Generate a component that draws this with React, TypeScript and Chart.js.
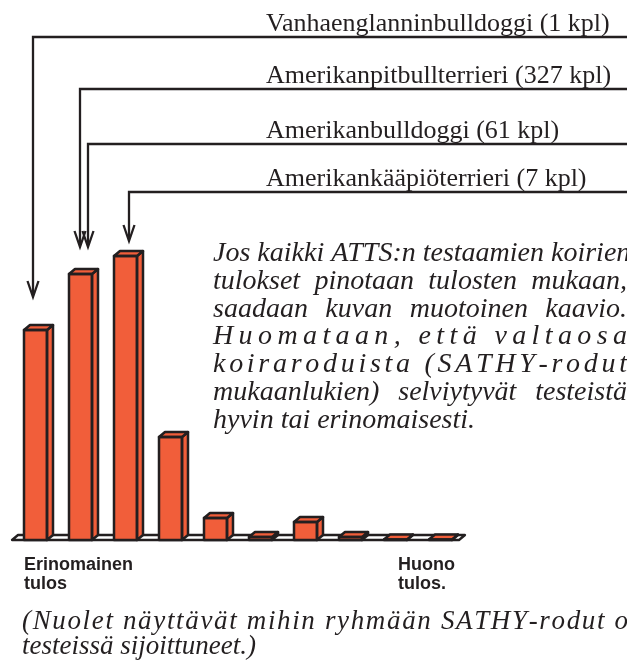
import { useEffect, useRef } from "react";
import { Chart, registerables } from "chart.js";

Chart.register(...registerables);

// ---- data ----
const categories = ["1", "2", "3", "4", "5", "6", "7", "8", "9", "10"];
const values = [210, 266, 284, 103, 22, 3, 18, 3, 0.5, 0.5];
const yMax = 300;

const breedLabels = [
  "Vanhaenglanninbulldoggi (1 kpl)",
  "Amerikanpitbullterrieri (327 kpl)",
  "Amerikanbulldoggi (61 kpl)",
  "Amerikankääpiöterrieri (7 kpl)",
];
const breedBar = [0, 1, 1, 2];

const paragraphLines = [
  "Jos kaikki ATTS:n testaamien koirien",
  "tulokset pinotaan tulosten mukaan,",
  "saadaan kuvan muotoinen kaavio.",
  "Huomataan, että valtaosa",
  "koiraroduista (SATHY-rodut",
  "mukaanlukien) selviytyvät testeistä",
  "hyvin tai erinomaisesti.",
];
const captionLines = [
  "(Nuolet näyttävät mihin ryhmään SATHY-rodut o",
  "testeissä sijoittuneet.)",
];
const leftAxisLabel = ["Erinomainen", "tulos"];
const rightAxisLabel = ["Huono", "tulos."];

// ---- layout / style ----
const ORANGE = "#F15E3A";
const DARK = "#231F20";
const DX = 6;
const DY = 5;
const arrowDx = [-2.5, -0.5, 7.5, 3.5];
const arrowLineY = [37, 89, 144, 192];
const arrowTipY = [297, 247, 247, 241];
const paraModes = ["word", "word", "word", "letter", "letter", "word", "none"];
const captionModes = ["letter", "none"];

function drawLine(
  ctx: CanvasRenderingContext2D,
  text: string,
  x: number,
  y: number,
  right: number,
  mode: string
) {
  if (mode === "letter") {
    const chars = Array.from(text);
    const widths = chars.map((c) => ctx.measureText(c).width);
    const natural = widths.reduce((a, b) => a + b, 0);
    const gap = chars.length > 1 ? Math.max(0, (right - x - natural) / (chars.length - 1)) : 0;
    let cx = x;
    chars.forEach((c, i) => {
      ctx.fillText(c, cx, y);
      cx += widths[i] + gap;
    });
  } else if (mode === "word") {
    const words = text.split(" ");
    const ww = words.map((w) => ctx.measureText(w).width);
    const sum = ww.reduce((a, b) => a + b, 0);
    const sp = ctx.measureText(" ").width;
    const gap = words.length > 1 ? Math.max(sp, (right - x - sum) / (words.length - 1)) : sp;
    let cx = x;
    words.forEach((w, i) => {
      ctx.fillText(w, cx, y);
      cx += ww[i] + gap;
    });
  } else {
    ctx.fillText(text, x, y);
  }
}

const floorPlugin = {
  id: "floor3d",
  beforeDatasetsDraw(chart: any) {
    const { ctx, chartArea } = chart;
    const y = chartArea.bottom;
    const xl = chartArea.left - 1;
    const xr = chartArea.right - 4;
    ctx.save();
    ctx.beginPath();
    ctx.moveTo(xl, y);
    ctx.lineTo(xr, y);
    ctx.lineTo(xr + DX, y - DY);
    ctx.lineTo(xl + DX, y - DY);
    ctx.closePath();
    ctx.fillStyle = "#ffffff";
    ctx.fill();
    ctx.lineWidth = 2.3;
    ctx.strokeStyle = DARK;
    ctx.lineJoin = "round";
    ctx.stroke();
    ctx.restore();
  },
};

const depthPlugin = {
  id: "depth3d",
  afterDatasetsDraw(chart: any) {
    const { ctx } = chart;
    const meta = chart.getDatasetMeta(0);
    ctx.save();
    ctx.lineWidth = 2.5;
    ctx.strokeStyle = DARK;
    ctx.fillStyle = ORANGE;
    ctx.lineJoin = "round";
    meta.data.forEach((el: any) => {
      const { x, y, base, width } = el.getProps(["x", "y", "base", "width"], true);
      const x0 = x - width / 2;
      const x1 = x + width / 2;
      // side
      ctx.beginPath();
      ctx.moveTo(x1, y);
      ctx.lineTo(x1 + DX, y - DY);
      ctx.lineTo(x1 + DX, base - DY);
      ctx.lineTo(x1, base);
      ctx.closePath();
      ctx.fill();
      ctx.stroke();
      // top
      ctx.beginPath();
      ctx.moveTo(x0, y);
      ctx.lineTo(x1, y);
      ctx.lineTo(x1 + DX, y - DY);
      ctx.lineTo(x0 + DX, y - DY);
      ctx.closePath();
      ctx.fill();
      ctx.stroke();
      // front outline
      ctx.strokeRect(x0, y, width, base - y);
    });
    ctx.restore();
  },
};

const textPlugin = {
  id: "annotations",
  afterDraw(chart: any) {
    const { ctx } = chart;
    const W = chart.width;
    const meta = chart.getDatasetMeta(0);
    ctx.save();
    ctx.fillStyle = DARK;
    ctx.strokeStyle = DARK;
    ctx.textBaseline = "alphabetic";
    ctx.textAlign = "left";

    // breed labels and arrows
    ctx.font = '26px "Liberation Serif"';
    breedLabels.forEach((label, i) => {
      ctx.fillText(label, 266, arrowLineY[i] - 6);
    });
    ctx.lineWidth = 2.3;
    ctx.lineJoin = "miter";
    breedBar.forEach((b, i) => {
      const el = meta.data[b];
      const ax = el.x + arrowDx[i];
      const ly = arrowLineY[i];
      const ty = arrowTipY[i];
      ctx.beginPath();
      ctx.moveTo(W + 2, ly);
      ctx.lineTo(ax, ly);
      ctx.lineTo(ax, ty - 2);
      ctx.stroke();
      ctx.beginPath();
      ctx.moveTo(ax - 5.5, ty - 16);
      ctx.lineTo(ax, ty);
      ctx.lineTo(ax + 5.5, ty - 16);
      ctx.stroke();
    });

    // paragraph
    ctx.font = 'italic 28px "Liberation Serif"';
    paragraphLines.forEach((line, i) => {
      drawLine(ctx, line, 213, 261 + 27.8 * i, 627, paraModes[i]);
    });

    // axis labels
    ctx.font = 'bold 18px "Liberation Sans"';
    leftAxisLabel.forEach((t, i) => ctx.fillText(t, 24, 570 + 19 * i));
    rightAxisLabel.forEach((t, i) => ctx.fillText(t, 398, 570 + 19 * i));

    // caption
    ctx.font = 'italic 27px "Liberation Serif"';
    captionLines.forEach((line, i) => {
      drawLine(ctx, line, 22, 629 + 25 * i, 628, captionModes[i]);
    });
    ctx.restore();
  },
};

export default function App() {
  const ref = useRef<HTMLCanvasElement | null>(null);
  useEffect(() => {
    document.body.style.margin = "0";
    const canvas = ref.current;
    if (!canvas) return;
    const chart = new Chart(canvas, {
      type: "bar",
      data: {
        labels: categories,
        datasets: [
          {
            data: values,
            backgroundColor: ORANGE,
            borderWidth: 0,
            barThickness: 23,
          },
        ],
      },
      options: {
        responsive: false,
        animation: false,
        events: [],
        layout: { padding: { left: 13, right: 164, top: 240, bottom: 128 } },
        scales: {
          x: { display: false },
          y: { display: false, min: 0, max: yMax },
        },
        plugins: { legend: { display: false }, tooltip: { enabled: false } },
      },
      plugins: [floorPlugin, depthPlugin, textPlugin],
    } as any);
    return () => chart.destroy();
  }, []);
  return (
    <canvas
      ref={ref}
      width={627}
      height={668}
      style={{ display: "block", width: 627, height: 668, background: "#fff" }}
    />
  );
}
